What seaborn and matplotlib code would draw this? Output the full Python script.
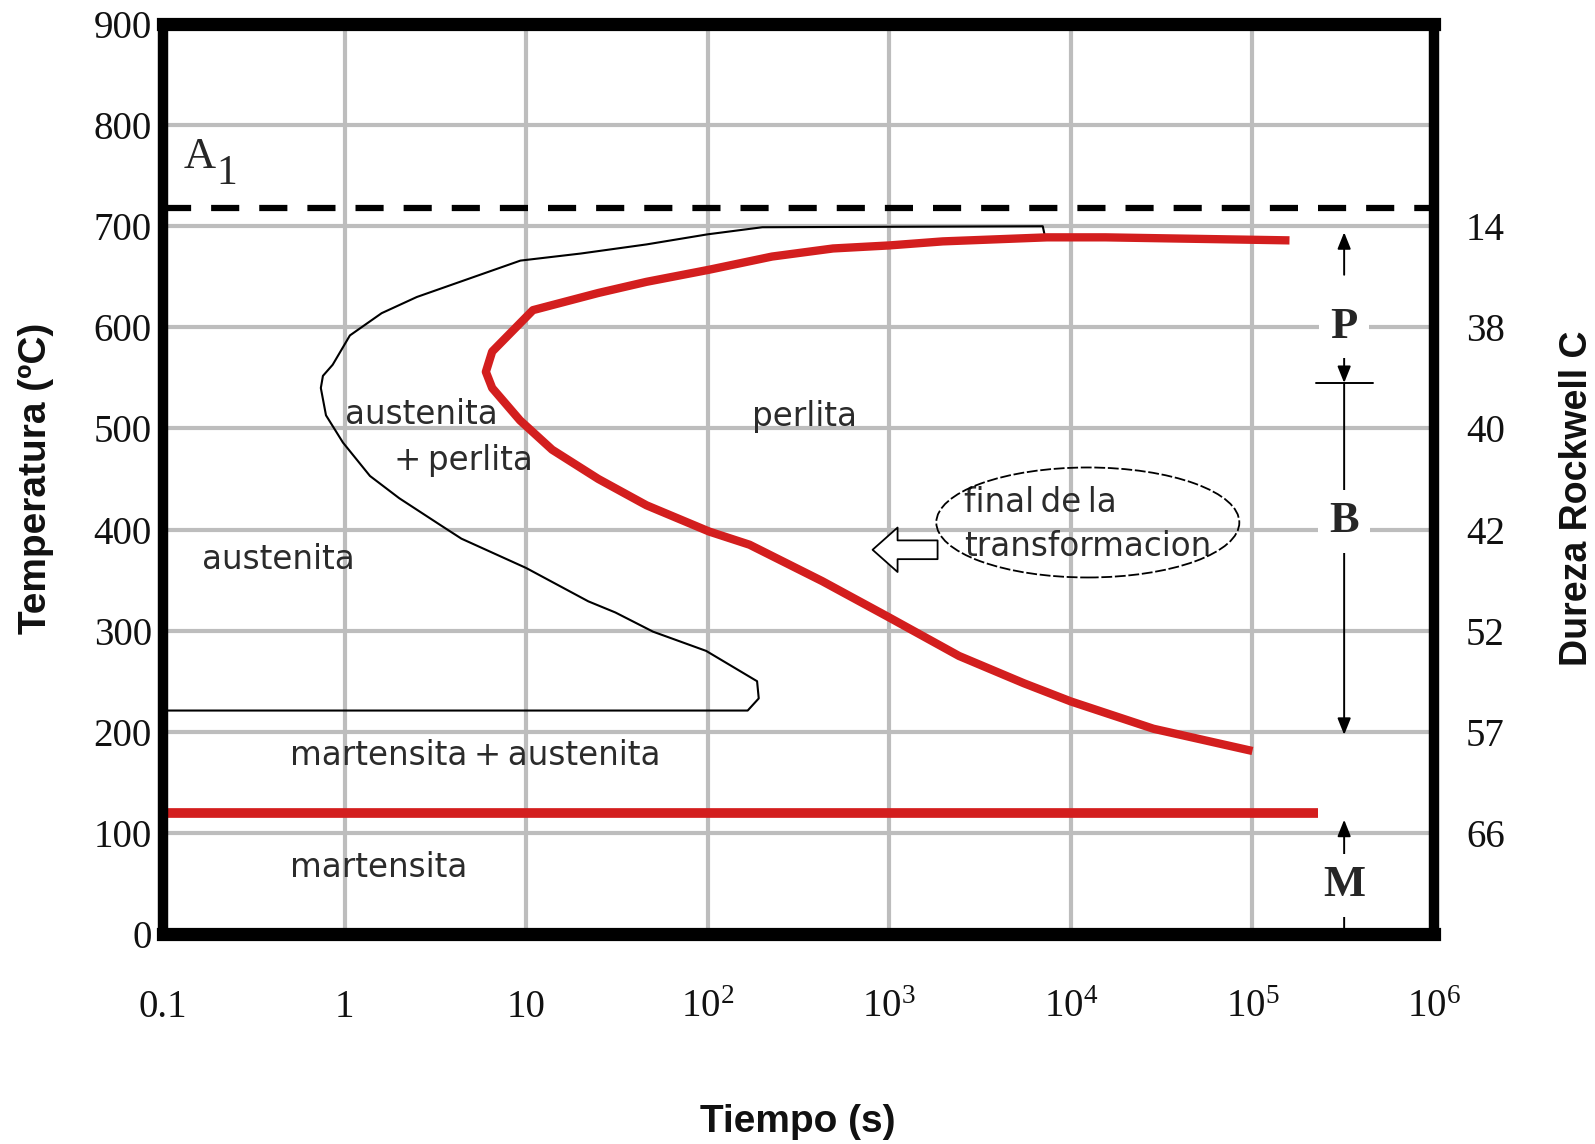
import matplotlib
matplotlib.use("Agg")
import matplotlib.pyplot as plt
from matplotlib.patches import Ellipse
from matplotlib.transforms import IdentityTransform
from matplotlib.ticker import NullLocator
import pandas as pd
import seaborn as sns

# ---------------- data ----------------
temp_ticks = [0, 100, 200, 300, 400, 500, 600, 700, 800, 900]
temp_labels = ["0", "100", "200", "300", "400", "500", "600", "700", "800", "900"]

time_ticks = [0.1, 1, 10, 1e2, 1e3, 1e4, 1e5, 1e6]
time_labels = ["0.1", "1", "10", r"$10^{2}$", r"$10^{3}$", r"$10^{4}$",
               r"$10^{5}$", r"$10^{6}$"]

# Rockwell C hardness read against the temperature scale
hardness_temps = [700, 600, 500, 400, 300, 200, 100]
hardness_hrc = ["14", "38", "40", "42", "52", "57", "66"]

a1_temp = 718           # A1 critical temperature
ms_temp = 120           # martensite start
ms_time = [0.1, 2.3e5]  # extent of the Ms line

# start of transformation (thin curve), closing on the lower horizontal
start_time = [0.1, 166, 191, 187, 98, 50, 31, 22, 10, 4.4, 3.4, 2.0, 1.38,
              0.98, 0.79, 0.74, 0.76, 0.86, 1.07, 1.6, 2.5, 5.0, 9.3, 20, 46,
              100, 200, 7000, 7200]
start_temp = [221, 221, 233, 250, 280, 299, 318, 329, 362, 391, 404, 431, 453,
              486, 513, 540, 552, 563, 592, 614, 630, 649, 666, 673, 682,
              692, 699, 700, 690]

# end of transformation (thick red curve)
finish_time = [1.6e5, 1.55e4, 7400, 1970, 1000, 490, 226, 102, 46, 25, 10.9,
               6.5, 6.0, 6.5, 9.25, 13.9, 25, 46, 102, 170, 427, 1000, 2420,
               5510, 1e4, 28500, 1e5]
finish_temp = [686, 689, 689, 685, 681, 678, 670, 657, 645, 634, 617,
               576, 556, 540, 508, 479, 450, 424, 398, 385, 349, 313, 275,
               248, 230, 203, 181]

# microstructure bands on the right (P, B, M)
band_time = 3.2e5
pearlite_top, pearlite_bottom = 694, 545
bainite_bottom = 197
martensite_top = 113

# ---------------- style ----------------
sns.set_theme(style="white")
plt.rcParams.update({
    "font.family": ["DejaVu Sans"],
    "mathtext.fontset": "custom",
    "mathtext.rm": "Liberation Serif",
    "mathtext.it": "Liberation Serif:italic",
    "mathtext.bf": "Liberation Serif:bold",
})

RED = "#d31e1e"
GRID = "#bdbdbd"
TXT = "#2b2b2b"
SERIF = "Liberation Serif"
SANS_BOLD = "Liberation Sans"

fig = plt.figure(figsize=(15.95, 11.44), dpi=100)
fig.patch.set_facecolor("white")
ax = fig.add_axes([163 / 1595, 1 - 934 / 1144, 1271 / 1595, 910 / 1144])
ax.set_xscale("log")
ax.set_xlim(time_ticks[0], time_ticks[-1])
ax.set_ylim(temp_ticks[0], temp_ticks[-1])
ax.set_facecolor("white")

ax.set_xticks(time_ticks, time_labels)
ax.set_yticks(temp_ticks, temp_labels)
ax.xaxis.set_minor_locator(NullLocator())
ax.set_axisbelow(True)
ax.grid(True, color=GRID, linewidth=3)
ax.tick_params(axis="x", length=0, pad=60, labelsize=28,
               labelfontfamily=SERIF, labelcolor="#111111")
ax.tick_params(axis="y", length=0, pad=8, labelsize=28,
               labelfontfamily=SERIF, labelcolor="#111111")
for tick in ax.xaxis.get_major_ticks():
    tick.label1.set_verticalalignment("baseline")

for side, sp in ax.spines.items():
    sp.set_visible(True)
    sp.set_color("black")
    sp.set_linewidth(9.5 if side in ("top", "bottom") else 7.5)
    sp.set_capstyle("projecting")
    sp.set_zorder(10)

# hardness scale on the right
ax2 = ax.twinx()
ax2.set_ylim(temp_ticks[0], temp_ticks[-1])
ax2.set_yticks(hardness_temps, hardness_hrc)
ax2.tick_params(axis="y", length=0, pad=23, labelsize=28,
                labelfontfamily=SERIF, labelcolor="#111111")
ax2.grid(False)
for sp in ax2.spines.values():
    sp.set_visible(False)

# ---------------- curves ----------------
start_df = pd.DataFrame({"t": start_time, "T": start_temp})
finish_df = pd.DataFrame({"t": finish_time, "T": finish_temp})
ms_df = pd.DataFrame({"t": ms_time, "T": [ms_temp, ms_temp]})

sns.lineplot(data=start_df, x="t", y="T", sort=False, estimator=None,
             color="black", linewidth=1.5, ax=ax, zorder=3)
sns.lineplot(data=finish_df, x="t", y="T", sort=False, estimator=None,
             color=RED, linewidth=6, solid_joinstyle="round",
             solid_capstyle="butt", ax=ax, zorder=4)
sns.lineplot(data=ms_df, x="t", y="T", sort=False, estimator=None,
             color=RED, linewidth=7, solid_capstyle="butt", ax=ax, zorder=4)
ax.axhline(a1_temp, color="black", linewidth=4.5,
           linestyle=(0, (4.5, 3.2)), zorder=4)
ax.set_xlabel("")
ax.set_ylabel("")

# A1 label
ax.text(0.13, 758, "A", fontsize=32, family=SERIF, va="baseline", ha="left")
ax.text(0.197, 742, "1", fontsize=30, family=SERIF, va="baseline", ha="left")

# region labels
region_kw = dict(fontsize=23.5, color=TXT, va="center", ha="left", zorder=5)
ax.text(1.0, 514, "austenita", **region_kw)
ax.text(1.88, 468, "+\u2009perlita", **region_kw)
ax.text(175, 512, "perlita", **region_kw)
ax.text(0.164, 370, "austenita", **region_kw)
ax.text(0.5, 177, "martensita\u2009+\u2009austenita", **region_kw)
ax.text(0.5, 66, "martensita", **region_kw)
ax.text(2580, 427, "final\u2009de\u2009la", **region_kw)
ax.text(2580, 383, "transformacion", **region_kw)

# ellipse around the note and the hollow arrow pointing at the curve
cx, cy = ax.transData.transform((12400, 407))
ax.add_patch(Ellipse((cx, cy), width=303, height=110, transform=IdentityTransform(),
                     fill=False, edgecolor="black", linewidth=1.3,
                     linestyle=(0, (6, 1.5)), zorder=5))
ax.annotate("", xy=(809, 380), xytext=(1845, 380),
            arrowprops=dict(arrowstyle="simple,head_length=1.8,head_width=3.2,tail_width=1.35",
                            mutation_scale=10, fc="white", ec="black", lw=1.3,
                            shrinkA=0, shrinkB=0), zorder=5)

# ---------------- P / B / M bands ----------------
def band_arrow(y_from, y_to, style="-|>,head_length=0.5,head_width=0.2"):
    ax.annotate("", xy=(band_time, y_to), xytext=(band_time, y_from),
                arrowprops=dict(arrowstyle=style, color="black", lw=1.4,
                                mutation_scale=20, shrinkA=0, shrinkB=0),
                zorder=6)

letter_kw = dict(fontsize=32, fontweight="bold", family=SERIF, ha="center",
                 va="center", zorder=7,
                 bbox=dict(boxstyle="square,pad=0.25", fc="white", ec="none"))

band_arrow(652, pearlite_top)
ax.text(band_time, 600, "P", **letter_kw)
band_arrow(572, pearlite_bottom)
ax.plot([band_time / 10 ** 0.157, band_time * 10 ** 0.157],
        [pearlite_bottom, pearlite_bottom], color="black", lw=1.4, zorder=6)

band_arrow(pearlite_bottom, 433, style="-")
ax.text(band_time, 408, "B", **letter_kw)
band_arrow(390, bainite_bottom)

band_arrow(72, martensite_top)
ax.text(band_time, 48, "M", **letter_kw)
band_arrow(27, 0, style="-")

# ---------------- axis titles ----------------
fig.text(36 / 1595, 1 - 478 / 1144, "Temperatura (ºC)", rotation=90,
         ha="center", va="center", fontsize=28, fontweight="bold",
         family=SANS_BOLD, color="#111111")
fig.text(798 / 1595, 1 - 1122 / 1144, "Tiempo (s)", ha="center", va="center",
         fontsize=28, fontweight="bold", family=SANS_BOLD, color="#111111")
fig.text(1577 / 1595, 1 - 498 / 1144, "Dureza Rockwell C", rotation=90,
         ha="center", va="center", fontsize=27, fontweight="bold",
         family=SANS_BOLD, color="#111111")

fig.savefig("out.png", dpi=100, facecolor="white")
